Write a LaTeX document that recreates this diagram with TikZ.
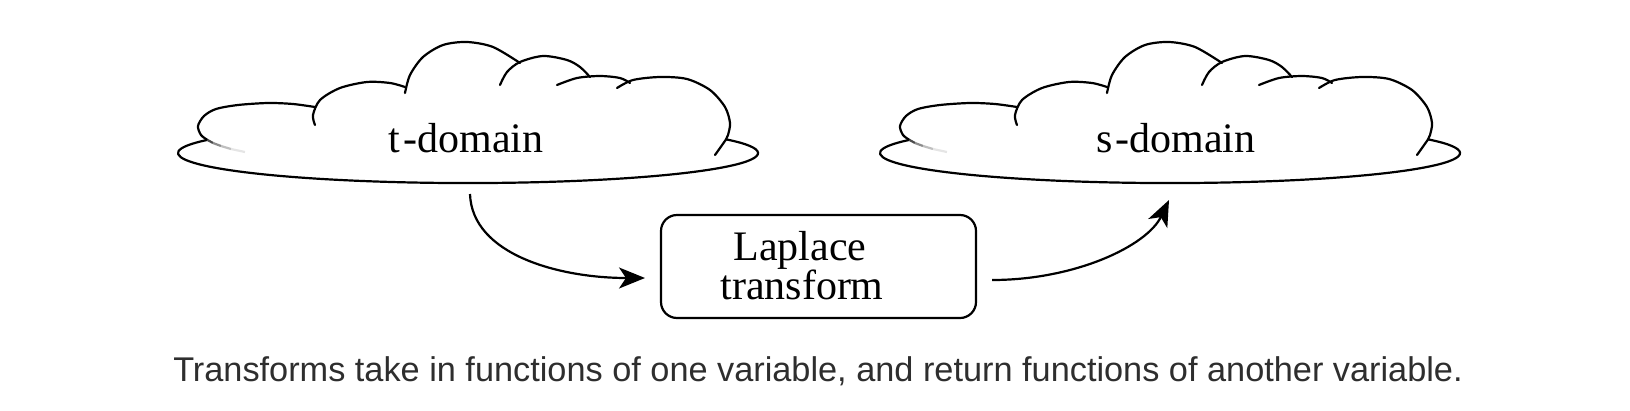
\documentclass[tikz,border=0pt]{standalone}
\usepackage{fontspec}
\setmainfont{Liberation Serif}
\newfontfamily\capfont{Liberation Sans}
\usetikzlibrary{arrows.meta}
\tikzset{
  cloudline/.style={line width=2.2pt, line join=round, line cap=round},
  lbl/.style={font=\fontsize{42}{42}\selectfont, inner sep=0pt},
  conn/.style={line width=2.2pt, -{Stealth[length=26pt,width=21pt,inset=7pt]}},
  boxnode/.style={draw, line width=2.2pt, rounded corners=16pt, inner sep=0pt},
  cloudpic/.pic={
    \draw[cloudline] (-260.6,-13.1) arc[start angle=154,end angle=387,x radius=290pt,y radius=30pt];
    \draw[cloudline] plot[smooth] coordinates {(-260.6,-13.1) (-267,-18) (-270,-27) (-264,-37) (-252,-44) (-230,-48) (-200,-50) (-175,-49) (-153,-46)};
    \draw[line width=2.2pt, black!70] (-260.6,-13.1) -- (-255,-10);
    \draw[line width=2.2pt, black!45] (-255,-10) -- (-247,-7);
    \draw[line width=2.2pt, black!25] (-247,-7) -- (-237,-4);
    \draw[line width=2.2pt, black!10] (-237,-4) -- (-223,-1);
    \draw[cloudline] plot[smooth] coordinates {(-153,-28) (-155,-38) (-148,-53) (-128,-65) (-101,-71) (-78,-70) (-63,-66)};
    \draw[cloudline] plot[smooth] coordinates {(-63,-60) (-58,-78) (-45,-96) (-25,-108) (-1,-111) (25,-106) (52,-90)};
    \draw[cloudline] plot[smooth] coordinates {(32,-68) (39,-81) (52,-91) (75,-97) (99,-93) (112,-86) (122,-76)};
    \draw[cloudline] plot[smooth] coordinates {(89,-68) (109,-75) (132,-77) (152,-75) (162,-70)};
    \draw[cloudline] plot[smooth] coordinates {(149,-65) (165,-73) (192,-76) (219,-74) (242,-63) (257,-46) (262,-30) (260,-18) (258,-13.6) (247,2)};
  }
}
\begin{document}
\begin{tikzpicture}[x=1pt,y=-1pt]
\useasboundingbox (0,0) rectangle (1630,410);
\pic at (468,153) {cloudpic};
\pic at (1170,153) {cloudpic};
\node[lbl, anchor=base] (tdom) at (466,152) {t\kern3pt-domain};
\node[lbl, anchor=base] (sdom) at (1176,152) {s\kern3pt-domain};
\node[boxnode, minimum width=315pt, minimum height=103pt] (lt) at (818.5,266.5) {};
\node[lbl, anchor=base] (lap1) at (800,260) {Laplace};
\node[lbl, anchor=base] (lap2) at (802,299) {transform};
\coordinate (a1s) at (470,194);
\coordinate (a1e) at (645,278);
\coordinate (a2s) at (992,280);
\coordinate (a2e) at (1169,200);
\draw[conn] (a1s) .. controls (472,255) and (560,278) .. (a1e);
\draw[conn] (a2s) .. controls (1075,280) and (1147,246) .. (a2e);
\node[font=\capfont\fontsize{34.3}{40}\selectfont, text=black!82, inner sep=0pt, anchor=base] (cap) at (818,381) {Transforms take in functions of one variable, and return functions of another variable.};
\end{tikzpicture}
\end{document}
